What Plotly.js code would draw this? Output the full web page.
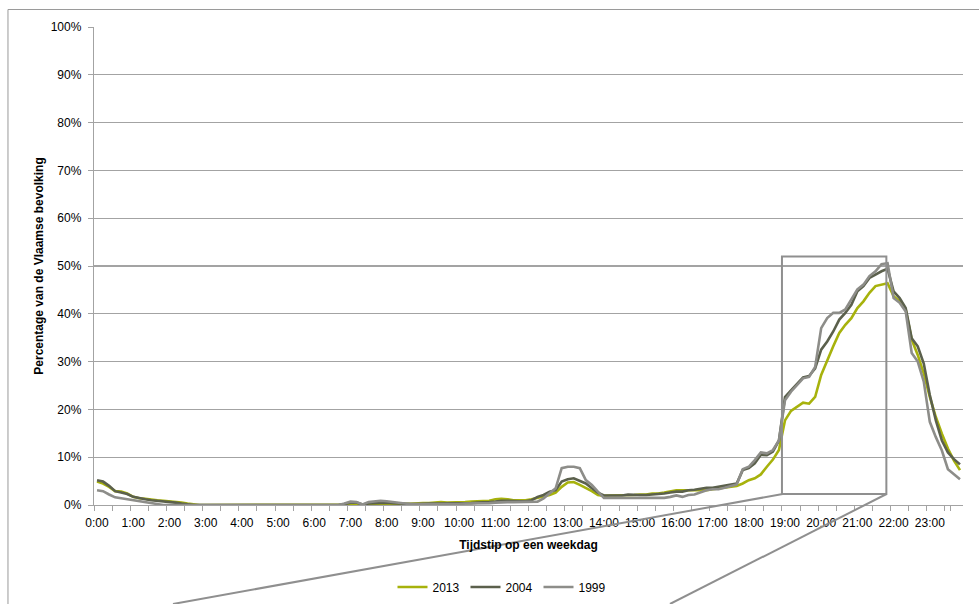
<!DOCTYPE html>
<html>
<head>
<meta charset="utf-8">
<script src="https://cdn.plot.ly/plotly-3.0.1.min.js"></script>
<style>html,body{margin:0;padding:0;background:#fff;}#chart{width:979px;height:604px;}</style>
</head>
<body>
<div id="chart"></div>
<script>
// Hour tick labels and 10-minute steps
const hourLabels = ['0','1','2','3','4','5','6','7','8','9','10','11','12','13','14','15','16','17','18','19','20','21','22','23'];
const minuteSteps = [':00', ':10', ':20', ':30', ':40', ':50'];

const seriesNames = ['2013', '2004', '1999'];

// Percentage of Flemish population (10-minute intervals, 0:00 .. 23:50)
const y2013 = [
 4.9,4.5,3.8,2.9,2.8,2.4, 1.7,1.4,1.3,1.1,1.0,0.9, 0.8,0.7,0.5,0.3,0.1,0,
 0,0,0,0,0,0, 0,0,0,0,0,0, 0,0,0,0,0,0,
 0,0,0,0,0,0, 0,0,0,0.1,0.2,0.3, 0.2,0.1,0.1,0.2,0.3,0.3,
 0.4,0.4,0.5,0.6,0.5,0.5, 0.6,0.6,0.7,0.8,0.8,0.9, 1.2,1.3,1.2,1.0,1.0,1.0,
 1.2,1.5,1.7,2.1,2.6,3.8, 4.7,4.8,4.2,3.6,2.9,2.1, 1.9,2.0,2.0,2.0,2.1,2.1,
 2.2,2.2,2.4,2.4,2.6,2.9, 3.1,3.1,3.1,3.0,3.0,3.1, 3.3,3.5,3.6,3.8,4.0,4.5,
 5.2,5.6,6.4,8.0,9.5,11.5, 17.7,19.7,20.5,21.4,21.2,22.6, 27.2,30.4,33.2,36.0,37.7,39.1,
 41.2,42.6,44.4,45.8,46.1,46.4, 43.7,42.6,40.9,34.6,31.4,27.5, 22.6,18.4,14.9,11.8,9.3,7.3
];
const y2004 = [
 5.2,4.9,4.0,2.9,2.6,2.3, 1.7,1.4,1.2,1.0,0.9,0.8, 0.7,0.5,0.3,0.1,0,0,
 0,0,0,0,0,0, 0,0,0,0,0,0, 0,0,0,0,0,0,
 0,0,0,0,0,0.2, 0.5,0.5,0.1,0.3,0.4,0.5, 0.5,0.4,0.3,0.3,0.2,0.2,
 0.3,0.3,0.3,0.3,0.3,0.4, 0.4,0.4,0.4,0.5,0.5,0.6, 0.7,0.9,0.9,0.8,0.8,0.8,
 1.0,1.7,2.1,2.8,3.1,4.9, 5.4,5.6,5.0,4.5,3.5,2.6, 2.0,2.0,2.0,2.0,2.2,2.1,
 2.1,2.1,2.2,2.2,2.4,2.6, 2.8,2.8,3.1,3.2,3.4,3.6, 3.6,3.8,4.0,4.2,4.5,7.3,
 7.7,8.7,10.5,10.4,11.2,13.5, 22.6,24.0,25.4,26.7,27.0,28.6, 32.5,34.2,36.3,38.8,40.2,41.9,
 44.7,45.8,47.5,48.2,48.9,49.4, 44.7,43.3,41.2,34.9,33.2,29.6, 23.0,17.7,13.5,11.0,9.6,8.5
];
const y1999 = [
 3.1,2.9,2.2,1.6,1.4,1.2, 0.9,0.7,0.5,0.3,0.1,0, 0,0,0,0,0,0,
 0,0,0,0,0,0, 0,0,0,0,0,0, 0,0,0,0,0,0,
 0,0,0,0,0,0.3, 0.7,0.6,0.1,0.6,0.7,0.9, 0.8,0.6,0.4,0.3,0.2,0.2,
 0.2,0.1,0.1,0.2,0.2,0.2, 0.2,0.3,0.3,0.4,0.4,0.4, 0.5,0.6,0.6,0.6,0.6,0.6,
 0.6,0.7,1.4,2.4,3.5,7.7, 8.0,8.0,7.7,5.2,4.2,2.8, 1.5,1.5,1.5,1.5,1.5,1.5,
 1.5,1.5,1.5,1.5,1.5,1.7, 2.0,1.7,2.1,2.2,2.6,3.1, 3.3,3.3,3.6,3.9,4.3,7.5,
 8.0,9.4,11.0,10.8,11.5,13.5, 21.9,23.7,25.1,26.5,26.8,28.9, 37.0,39.1,40.2,40.2,40.9,43.0,
 45.1,46.1,47.9,48.9,50.4,50.6, 43.3,42.3,40.5,31.8,30.0,25.8, 17.4,14.2,11.4,7.5,6.5,5.4
];
const yTicks = [0,10,20,30,40,50,60,70,80,90,100];

// build categories from the small arrays
const categories = [];
hourLabels.forEach(h => minuteSteps.forEach(m => categories.push(h + m)));
const tickVals = [], tickText = [];
hourLabels.forEach(h => { tickVals.push(h + ':00'); tickText.push(h + ':00'); tickVals.push(h + ':30'); tickText.push(''); });

const colors = ['#A7B20C', '#5B604C', '#8D8D89'];
const values = [y2013, y2004, y1999];

const data = values.map((v, k) => ({
  type: 'scatter', mode: 'lines', x: categories, y: v, name: seriesNames[k],
  line: {color: colors[k], width: 2.6}, hoverinfo: 'x+y+name'
}));

const grey = '#A3A3A3';
const frame = '#9A9A9A';
const layout = {
  width: 979, height: 604,
  margin: {l: 94, r: 16, t: 27, b: 99, pad: 0, autoexpand: false},
  paper_bgcolor: '#fff', plot_bgcolor: '#fff',
  font: {family: 'Liberation Sans, Arial, sans-serif', size: 12, color: '#000'},
  showlegend: true,
  legend: {orientation: 'h', x: 0.4695, xanchor: 'center', y: -0.1715, yanchor: 'middle',
           font: {size: 12}, entrywidth: 28, entrywidthmode: 'pixels', traceorder: 'normal', itemwidth: 30},
  xaxis: {
    type: 'category', range: [-0.5, 143.5], tickmode: 'array', tickvals: tickVals, ticktext: tickText,
    tickson: 'boundaries', ticks: 'outside', ticklen: 5, tickcolor: grey, tickwidth: 1,
    showgrid: false, showline: true, linecolor: grey, linewidth: 1.2, zeroline: false,
    tickangle: 0, tickfont: {size: 12}, ticklabelstandoff: 6,
    title: {text: '<b>Tijdstip op een weekdag</b>', font: {size: 12}, standoff: 12},
    automargin: false, fixedrange: true
  },
  yaxis: {
    range: [0, 100], tickmode: 'array', tickvals: yTicks, ticktext: yTicks.map(t => t + '%'),
    ticks: 'outside', ticklen: 5, tickcolor: grey, showgrid: true, gridcolor: grey, gridwidth: 1.2,
    showline: true, linecolor: grey, linewidth: 1.2, zeroline: false, ticklabelstandoff: 4,
    tickfont: {size: 12},
    title: {text: '<b>Percentage van de Vlaamse bevolking</b>', font: {size: 12}, standoff: 4},
    automargin: false, fixedrange: true
  },
  shapes: [
    // zoom rectangle 19:00 - 21:50
    {type: 'rect', xref: 'x', yref: 'y', x0: 113.5, x1: 130.8, y0: 2.3, y1: 52,
     line: {color: '#8F8F8F', width: 2}, fillcolor: 'rgba(0,0,0,0)', layer: 'above'},
    // callout lines towards the enlarged view below
    {type: 'line', xref: 'paper', yref: 'paper', x0: 0.7925, y0: 0.023, x1: 0.0909, y1: -0.2071,
     line: {color: '#8F8F8F', width: 2}},
    {type: 'line', xref: 'paper', yref: 'paper', x0: 0.912, y0: 0.023, x1: 0.6628, y1: -0.2071,
     line: {color: '#8F8F8F', width: 2}},
    // outer chart frame
    {type: 'line', xref: 'paper', yref: 'paper', x0: -0.099, y0: 1.0366, x1: 1.02, y1: 1.0366,
     line: {color: frame, width: 1}},
    {type: 'line', xref: 'paper', yref: 'paper', x0: -0.099, y0: 1.0366, x1: -0.099, y1: -0.21,
     line: {color: frame, width: 1}}
  ]
};

Plotly.newPlot('chart', data, layout, {displayModeBar: false, staticPlot: true});
</script>
</body>
</html>
